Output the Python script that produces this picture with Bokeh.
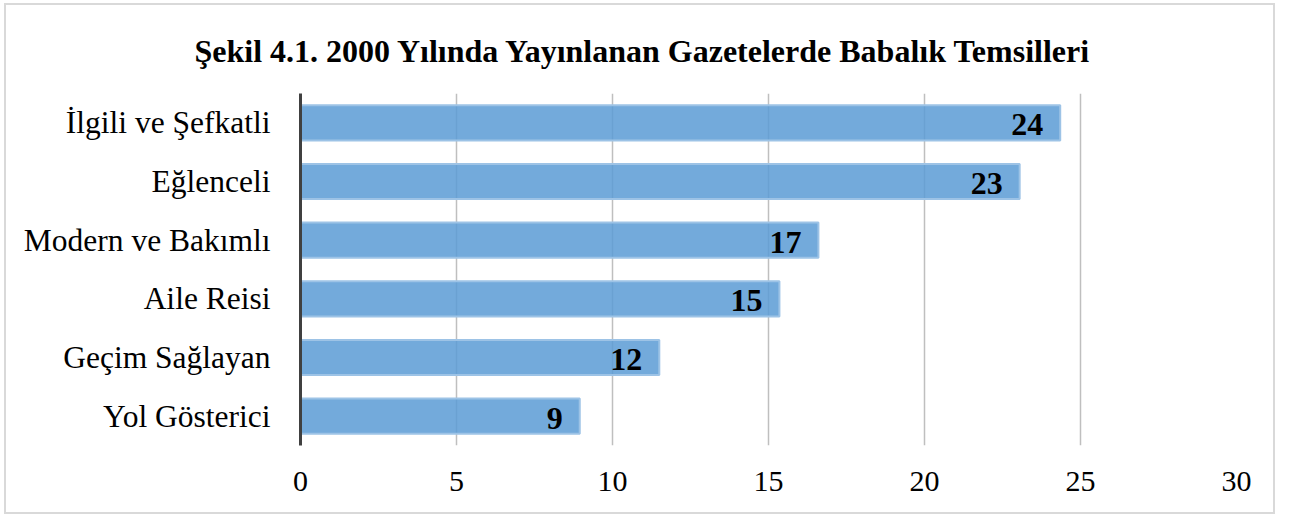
from bokeh.plotting import figure
from bokeh.models import ColumnDataSource, FactorRange, Range1d, FixedTicker
from bokeh.core.properties import value
from bokeh.embed import file_html
from bokeh.resources import INLINE

title_text = "Şekil 4.1. 2000 Yılında Yayınlanan Gazetelerde Babalık Temsilleri"
categories = ["İlgili ve Şefkatli", "Eğlenceli", "Modern ve Bakımlı", "Aile Reisi", "Geçim Sağlayan", "Yol Gösterici"]
bar_values = [24.35, 23.05, 16.6, 15.35, 11.5, 8.95]
bar_labels = ["24", "23", "17", "15", "12", "9"]
x_ticks = [0, 5, 10, 15, 20, 25, 30]

FONT = "Liberation Serif"

src = ColumnDataSource(dict(cat=categories, val=bar_values, lab=bar_labels))

p = figure(width=1271, height=511, output_backend="svg", toolbar_location=None,
           title=title_text,
           y_range=FactorRange(factors=categories[::-1]), x_range=Range1d(0, 30),
           min_border_left=294, min_border_right=41, min_border_top=88, min_border_bottom=71)
p.outline_line_color = None
p.styles = {"border": "2px solid #d9d9d9", "margin-left": "4px", "margin-top": "3px"}

p.title.align = "left"
p.title.offset = -106
p.title.standoff = 49
p.title.text_font = FONT
p.title.text_font_size = "32px"
p.title.text_font_style = "bold"
p.title.text_color = "#000000"

p.hbar(y="cat", right="val", left=0, height=0.6, source=src,
       fill_color="#5b9bd5", fill_alpha=0.85, line_color="#9dc3e6", line_width=2)

p.text(x="val", y="cat", text="lab", source=src, x_offset=-17, y_offset=2,
       text_align="right", text_baseline="middle", text_font=value(FONT),
       text_font_size="32px", text_font_style="bold", text_color="#000000")

p.xaxis.ticker = FixedTicker(ticks=x_ticks)
p.xaxis.axis_line_color = None
p.xaxis.major_tick_line_color = None
p.xaxis.minor_tick_line_color = None
p.xaxis.major_label_text_font = FONT
p.xaxis.major_label_text_font_size = "30px"
p.xaxis.major_label_text_color = "#000000"
p.xaxis.major_label_standoff = 20

p.yaxis.axis_line_color = "#404040"
p.yaxis.axis_line_width = 3
p.yaxis.major_tick_line_color = None
p.yaxis.minor_tick_line_color = None
p.yaxis.major_label_text_font = FONT
p.yaxis.major_label_text_font_size = "31.5px"
p.yaxis.major_label_text_color = "#000000"
p.yaxis.major_label_standoff = 24

p.ygrid.grid_line_color = None
p.xgrid.grid_line_color = "#bfbfbf"
p.xgrid.grid_line_width = 1.5

open("out.html", "w").write(file_html(p, INLINE))
